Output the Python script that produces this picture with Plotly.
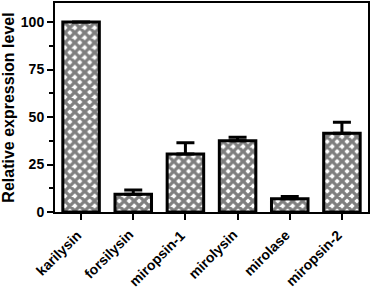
import plotly.graph_objects as go

categories = ["karilysin", "forsilysin", "miropsin-1", "mirolysin", "mirolase", "miropsin-2"]
values = [100, 9.3, 30.5, 37.5, 7.0, 41.4]
errors = [0, 2.3, 6.0, 1.8, 1.2, 5.8]
y_ticks = [0, 25, 50, 75, 100]

FONT = "Arial, Liberation Sans, sans-serif"

fig = go.Figure()
fig.add_trace(go.Bar(
    x=categories, y=values,
    width=0.7,
    marker=dict(
        color="white",
        line=dict(color="black", width=3),
        pattern=dict(shape="x", fgcolor="black", bgcolor="white", size=7, solidity=0.72),
    ),
    error_y=dict(type="data", array=errors, arrayminus=[0]*len(errors), symmetric=False,
                 color="black", thickness=3, width=9),
))

# category labels as rotated annotations placed under the ticks
for c in categories:
    fig.add_annotation(
        x=c, xref="x", y=0, yref="paper", yshift=-12, xshift=6,
        text="<b>%s</b>" % c, textangle=-45, showarrow=False,
        xanchor="right", yanchor="top",
        font=dict(family=FONT, size=14, color="black"),
    )

fig.update_layout(
    width=372, height=290,
    margin=dict(l=55, r=4, t=3, b=78),
    plot_bgcolor="white", paper_bgcolor="white",
    showlegend=False,
    font=dict(family=FONT, size=13, color="black"),
)
fig.update_xaxes(
    range=[-0.5, 5.5], automargin=False,
    showline=True, linecolor="black", linewidth=2, mirror=True,
    ticks="outside", ticklen=6, tickwidth=2, tickcolor="black",
    showticklabels=False,
    showgrid=False,
)
fig.update_yaxes(
    range=[0, 110], automargin=False,
    tickvals=y_ticks,
    ticktext=["<b>%d</b>" % v for v in y_ticks],
    showline=True, linecolor="black", linewidth=2, mirror=True,
    ticks="outside", ticklen=6, tickwidth=2, tickcolor="black",
    minor=dict(tickvals=[12.5, 37.5, 62.5, 87.5], ticks="outside", ticklen=4, tickwidth=2, tickcolor="black"),
    tickfont=dict(family=FONT, size=14, color="black"),
    title=dict(text="<b>Relative expression level</b>", standoff=6,
               font=dict(family=FONT, size=16, color="black")),
    showgrid=False, zeroline=False,
)
fig.write_html("out.html", config={"displayModeBar": False},
               post_script="document.body.style.margin='0';")
